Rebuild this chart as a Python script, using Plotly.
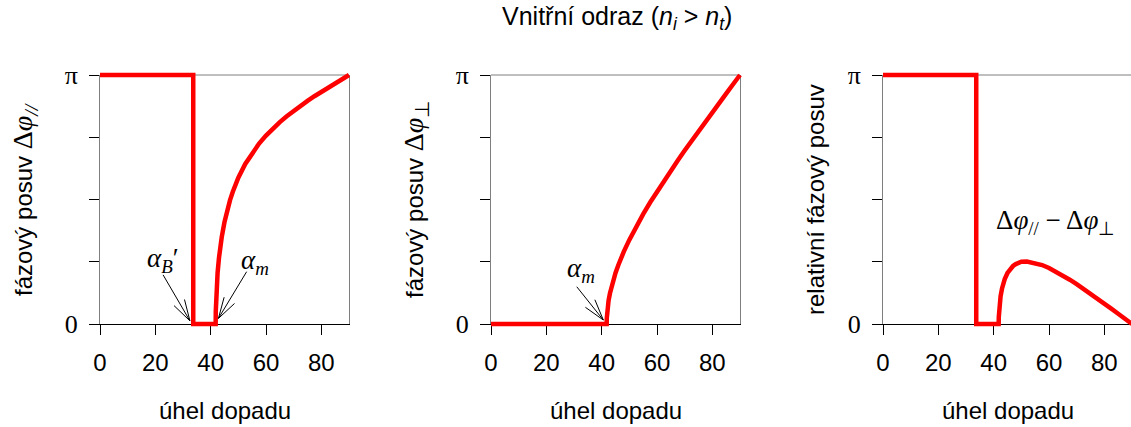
import math
import plotly.graph_objects as go

PI = math.pi

# ---------------- data ----------------
theta_par = [0, 33.7, 33.7, 41.81, 41.85, 41.9, 41.95, 42, 42.2, 42.5, 43, 43.5, 44, 45, 46, 47, 48,
             50, 52.5, 55, 57.5, 60, 62.5, 65, 67.5, 70, 72.5, 75, 77.5, 80, 82.5, 85, 87.5, 90]
dphi_par = [PI, PI, 0, 0, 0.159, 0.238, 0.297, 0.345, 0.490, 0.644, 0.833, 0.978, 1.096, 1.287, 1.438,
            1.563, 1.669, 1.846, 2.019, 2.158, 2.276, 2.377, 2.466, 2.548, 2.622, 2.691, 2.755, 2.815,
            2.874, 2.930, 2.984, 3.037, 3.090, PI]

theta_perp = [0, 41.81, 41.85, 41.9, 41.95, 42, 42.2, 42.5, 43, 43.5, 44, 45, 46, 47, 48, 50, 52.5,
              55, 57.5, 60, 62.5, 65, 67.5, 70, 72.5, 75, 77.5, 80, 82.5, 85, 87.5, 90]
dphi_perp = [0, 0, 0.071, 0.106, 0.133, 0.154, 0.221, 0.295, 0.388, 0.464, 0.530, 0.644, 0.741, 0.831,
             0.913, 1.061, 1.230, 1.386, 1.532, 1.671, 1.805, 1.936, 2.063, 2.188, 2.311, 2.432, 2.552,
             2.671, 2.790, 2.907, 3.025, PI]

theta_rel = [0, 33.7, 33.7, 41.81, 41.85, 41.9, 41.95, 42, 42.2, 42.5, 43, 43.5, 44, 45, 46, 47, 48,
             50, 52, 55, 57.5, 60, 62.5, 65, 67.5, 70, 72.5, 75, 77.5, 80, 82.5, 85, 87.5, 90]
dphi_rel = [PI, PI, 0, 0, 0.088, 0.132, 0.164, 0.190, 0.269, 0.350, 0.445, 0.513, 0.566, 0.644, 0.696,
            0.732, 0.756, 0.785, 0.789, 0.772, 0.744, 0.706, 0.661, 0.612, 0.559, 0.503, 0.444, 0.384,
            0.321, 0.258, 0.194, 0.130, 0.065, 0]

x_ticks = [0, 20, 40, 60, 80]
y_major = [0, PI]
y_major_text = ["0", "π"]
y_minor = [PI / 4, PI / 2, 3 * PI / 4]

title_text = "Vnitřní odraz (<i>n</i><sub><i>i</i></sub> > <i>n</i><sub><i>t</i></sub>)"
x_title = "úhel dopadu"
SERIF = "Liberation Serif, Times New Roman, serif"
SANS = "Liberation Sans, Arial, sans-serif"
SER_SPAN = "<span style='font-family:Liberation Serif;font-size:28px'>"
y_titles = [
    "fázový posuv " + SER_SPAN + "Δ<i>φ</i><sub><i>//</i></sub></span>",
    "fázový posuv " + SER_SPAN + "Δ<i>φ</i><sub>⊥</sub></span>",
    "relativní fázový posuv",
]

# ---------------- layout geometry ----------------
W, H = 1131, 427
frame_px = [(100, 349), (491, 740), (883, 1132)]
top_px, bot_px = 75, 324
PAD = 6  # px margin of the data axes around the frame (lets thick lines sit on the frame)
SX = (349 - 100) / 90.0
SY = (bot_px - top_px) / PI

fig = go.Figure()

series = [(theta_par, dphi_par), (theta_perp, dphi_perp), (theta_rel, dphi_rel)]
layout = dict(
    width=W, height=H, margin=dict(l=0, r=0, t=0, b=0, autoexpand=False),
    paper_bgcolor="white", plot_bgcolor="rgba(0,0,0,0)", showlegend=False,
)
shapes = []
annotations = []

ydom = [(H - bot_px) / H, (H - top_px) / H]
ydom_d = [(H - bot_px - PAD) / H, (H - top_px + PAD) / H]

for k in range(3):
    fx = k + 1          # frame axes
    dx = k + 4          # data axes
    l, r = frame_px[k]
    xdom = [l / W, min(r / W, 1.0)]
    xr1 = 90.0 * (xdom[1] * W - l) / (r - l)
    xdom_d = [(l - PAD) / W, min((r + PAD) / W, 1.0)]
    xr_d = [-PAD / SX, 90 + PAD / SX]
    if xdom_d[1] >= 1.0:
        xr_d[1] = -PAD / SX + (W - (l - PAD)) / SX
    sfx = "" if fx == 1 else str(fx)
    layout["xaxis" + sfx] = dict(
        domain=xdom, range=[0, xr1], anchor="y" + sfx,
        tickvals=x_ticks, ticks="outside", ticklen=10, tickwidth=1, tickcolor="black",
        showline=True, linecolor="black", linewidth=1, showgrid=False, zeroline=False,
        ticklabelstandoff=7,
        tickfont=dict(family=SANS, size=24, color="black"), layer="below traces", fixedrange=True,
    )
    layout["yaxis" + sfx] = dict(
        domain=ydom, range=[0, PI], anchor="x" + sfx,
        tickvals=y_major, ticktext=y_major_text, ticks="outside", ticklen=10, tickwidth=1,
        tickcolor="black", showline=True, linecolor="#7f7f7f", linewidth=1,
        minor=dict(tickvals=y_minor, ticks="outside", ticklen=10, tickwidth=1,
                   tickcolor="black", showgrid=False),
        mirror=(k < 2), showgrid=False, zeroline=False, ticklabelstandoff=6,
        tickfont=dict(family=SERIF, size=26, color="black"), layer="below traces", fixedrange=True,
    )
    layout["xaxis" + str(dx)] = dict(domain=xdom_d, range=xr_d, anchor="y" + str(dx),
                                     visible=False, fixedrange=True)
    layout["yaxis" + str(dx)] = dict(domain=ydom_d, range=[-PAD / SY, PI + PAD / SY],
                                     anchor="x" + str(dx), visible=False, fixedrange=True)
    shapes.append(dict(type="line", xref="x" + sfx + " domain", yref="y" + sfx + " domain",
                       x0=0, x1=1, y0=1, y1=1, line=dict(color="#7f7f7f", width=1), layer="below"))
    xs, ys = series[k]
    fig.add_trace(go.Scatter(x=xs, y=ys, mode="lines", xaxis="x" + str(dx), yaxis="y" + str(dx),
                             line=dict(color="#ff0000", width=4.5), hoverinfo="skip"))
    # axis titles
    annotations.append(dict(text=x_title, xref="paper", yref="paper", x=(l + r) / 2 / W,
                            y=(H - 410) / H, showarrow=False, xanchor="center", yanchor="middle",
                            font=dict(family=SANS, size=24, color="black")))

ylab_x = [25, 416, 816]
for k in range(3):
    annotations.append(dict(text=y_titles[k], xref="paper", yref="paper", x=ylab_x[k] / W,
                            y=(H - 200) / H, showarrow=False, textangle=-90,
                            xanchor="center", yanchor="middle",
                            font=dict(family=SANS, size=24, color="black")))

annotations.append(dict(text=title_text, xref="paper", yref="paper", x=617 / W, y=(H - 18) / H,
                        showarrow=False, xanchor="center", yanchor="middle",
                        font=dict(family=SANS, size=25, color="black")))

# in-plot labels (data coordinates of the frame axes)
labels = [
    ("x", "y", 22.8, 0.81, "<i>α</i><sub><i>B</i></sub>′"),
    ("x", "y", 56.0, 0.78, "<i>α</i><sub><i>m</i></sub>"),
    ("x2", "y2", 32.5, 0.68, "<i>α</i><sub><i>m</i></sub>"),
    ("x3", "y3", 62.5, 1.29, "Δ<i>φ</i><sub>//</sub> − Δ<i>φ</i><sub>⊥</sub>"),
]
for xr, yr, xv, yv, t in labels:
    annotations.append(dict(text=t, xref=xr, yref=yr, x=xv, y=yv, showarrow=False,
                            xanchor="center", yanchor="middle",
                            font=dict(family=SERIF, size=27, color="black")))

# arrows: (xref, yref, tail, tip)
arrows = [
    ("x", "y", (22.8, 0.62), (32.5, 0.04)),
    ("x", "y", (53.0, 0.66), (42.8, 0.07)),
    ("x2", "y2", (31.0, 0.47), (40.6, 0.05)),
]
BARB = 22.0
HALF = math.radians(16)
for xr, yr, tail, tip in arrows:
    shapes.append(dict(type="line", xref=xr, yref=yr, x0=tail[0], y0=tail[1], x1=tip[0], y1=tip[1],
                       line=dict(color="black", width=1)))
    vx = (tail[0] - tip[0]) * SX
    vy = -(tail[1] - tip[1]) * SY
    n = math.hypot(vx, vy)
    ux, uy = vx / n, vy / n
    for s in (1, -1):
        c, si = math.cos(s * HALF), math.sin(s * HALF)
        bx = (ux * c - uy * si) * BARB
        by = (ux * si + uy * c) * BARB
        shapes.append(dict(type="line", xref=xr, yref=yr, x0=tip[0], y0=tip[1],
                           x1=tip[0] + bx / SX, y1=tip[1] - by / SY,
                           line=dict(color="black", width=1)))

layout["shapes"] = shapes
layout["annotations"] = annotations
fig.update_layout(**layout)
fig.write_html("out.html",
               post_script="document.body.style.margin='0';document.body.style.overflow='hidden';")
